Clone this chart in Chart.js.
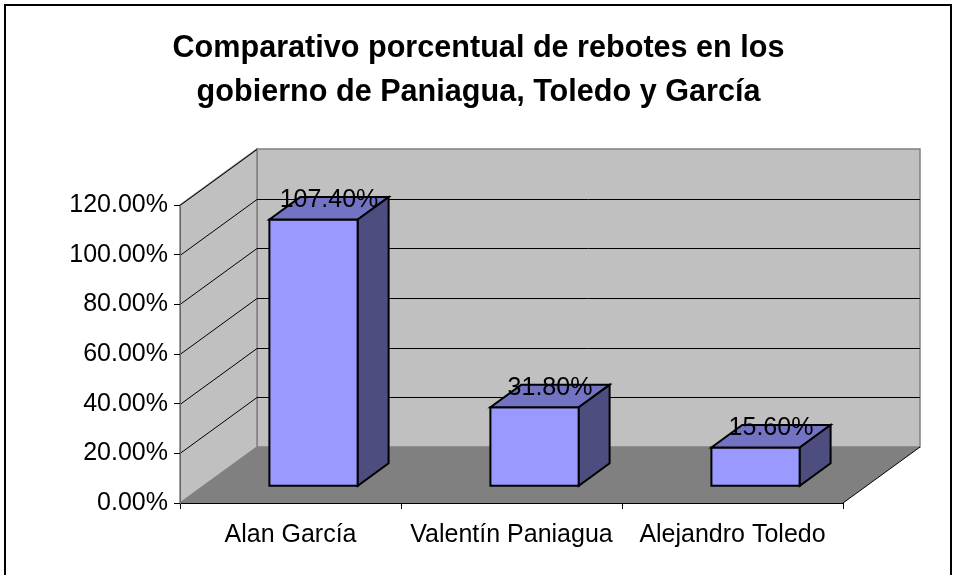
<!DOCTYPE html>
<html>
<head>
<meta charset="utf-8">
<script src="https://cdn.jsdelivr.net/npm/chart.js@4"></script>
<style>
  html, body { margin: 0; padding: 0; background: #fff; }
  canvas { display: block; }
</style>
</head>
<body>
<canvas id="c" width="957" height="575"></canvas>
<script>
const categories = ['Alan García', 'Valentín Paniagua', 'Alejandro Toledo'];
const values = [107.4, 31.8, 15.6];
const titleLines = ['Comparativo porcentual de rebotes en los', 'gobierno de Paniagua, Toledo y García'];
const yMin = 0, yMax = 120, yStep = 20;

const FONT = "'Liberation Sans', Arial, sans-serif";
const DEPTH_DX = 77, DEPTH_DY = -56;   // 3D wall depth
const BAR_FRONT = 0.3, BAR_DEPTH = 0.4; // fraction of floor depth

function poly(ctx, pts, fill, stroke, lw) {
  ctx.beginPath();
  ctx.moveTo(pts[0][0], pts[0][1]);
  for (let i = 1; i < pts.length; i++) ctx.lineTo(pts[i][0], pts[i][1]);
  ctx.closePath();
  if (fill) { ctx.fillStyle = fill; ctx.fill(); }
  if (stroke) { ctx.strokeStyle = stroke; ctx.lineWidth = lw || 1; ctx.stroke(); }
}

const threeD = {
  id: 'threeD',
  beforeDraw(chart) {
    const ctx = chart.ctx;
    const a = chart.chartArea;
    const ys = chart.scales.y;
    const dx = DEPTH_DX, dy = DEPTH_DY;
    ctx.save();
    ctx.fillStyle = '#fff';
    ctx.fillRect(0, 0, chart.width, chart.height);
    // outer frame
    ctx.strokeStyle = '#000';
    ctx.lineWidth = 2;
    ctx.strokeRect(5, 5, 946, 620);
    // back wall
    poly(ctx, [[a.left + dx, a.top + dy], [a.right + dx, a.top + dy], [a.right + dx, a.bottom + dy], [a.left + dx, a.bottom + dy]], '#C0C0C0', '#808080', 1.5);
    // side wall
    poly(ctx, [[a.left, a.top], [a.left + dx, a.top + dy], [a.left + dx, a.bottom + dy], [a.left, a.bottom]], '#C0C0C0', '#808080', 1.5);
    // floor
    poly(ctx, [[a.left, a.bottom], [a.right, a.bottom], [a.right + dx, a.bottom + dy], [a.left + dx, a.bottom + dy]], '#808080', null);
    ctx.beginPath();
    ctx.moveTo(a.right, a.bottom);
    ctx.lineTo(a.right + dx, a.bottom + dy);
    ctx.strokeStyle = '#000';
    ctx.lineWidth = 1;
    ctx.stroke();
    // gridlines
    ctx.strokeStyle = '#000';
    ctx.lineWidth = 1;
    ys.ticks.forEach(t => {
      if (t.value <= yMin) return;
      const y = Math.round(ys.getPixelForValue(t.value)) + 0.5;
      ctx.beginPath();
      ctx.moveTo(a.left, y);
      ctx.lineTo(a.left + dx, y + dy);
      if (t.value < yMax) ctx.lineTo(a.right + dx, y + dy);
      ctx.stroke();
    });
    ctx.restore();
  },
  afterDatasetsDraw(chart) {
    const ctx = chart.ctx;
    const meta = chart.getDatasetMeta(0);
    const fx = DEPTH_DX * BAR_FRONT, fy = DEPTH_DY * BAR_FRONT;
    const bx = DEPTH_DX * BAR_DEPTH, by = DEPTH_DY * BAR_DEPTH;
    ctx.save();
    ctx.lineJoin = 'miter';
    meta.data.forEach((bar, i) => {
      const w = bar.width;
      const l = bar.x - w / 2 + fx, r = bar.x + w / 2 + fx;
      const t = bar.y + fy, b = bar.base + fy;
      // front
      poly(ctx, [[l, t], [r, t], [r, b], [l, b]], '#9999FF', '#000', 2);
      // top
      poly(ctx, [[l, t], [l + bx, t + by], [r + bx, t + by], [r, t]], '#7373C4', '#000', 2);
      // side
      poly(ctx, [[r, t], [r + bx, t + by], [r + bx, b + by], [r, b]], '#4D4D80', '#000', 2);
      // label
      ctx.fillStyle = '#000';
      ctx.font = '25px ' + FONT;
      ctx.textAlign = 'center';
      ctx.textBaseline = 'middle';
      ctx.fillText(values[i].toFixed(2) + '%', bar.x + fx + bx / 2, t + by + 3);
    });
    ctx.restore();
  }
};

new Chart(document.getElementById('c'), {
  type: 'bar',
  data: {
    labels: categories,
    datasets: [{
      data: values,
      backgroundColor: 'rgba(0,0,0,0)',
      borderWidth: 0,
      barPercentage: 0.4,
      categoryPercentage: 1.0
    }]
  },
  options: {
    responsive: false,
    animation: false,
    devicePixelRatio: 1,
    layout: { padding: 0 },
    plugins: {
      legend: { display: false },
      tooltip: { enabled: false },
      title: {
        display: true,
        text: titleLines,
        color: '#000',
        font: { family: FONT, size: 30.6, weight: 'bold', lineHeight: 44 / 30.6 },
        padding: { top: 27, bottom: 90 }
      }
    },
    scales: {
      x: {
        offset: true,
        grid: { display: true, drawOnChartArea: false, drawTicks: true, tickLength: 6, color: '#000', offset: true },
        border: { display: true, color: '#000', width: 1 },
        ticks: { color: '#000', font: { family: FONT, size: 25 }, padding: 11, maxRotation: 0, autoSkip: false },
        afterFit(s) { s.height = 72; }
      },
      y: {
        min: yMin, max: yMax,
        grid: { display: true, drawOnChartArea: false, drawTicks: true, tickLength: 6, color: '#000' },
        border: { display: true, color: '#666', width: 1 },
        ticks: { stepSize: yStep, color: '#000', font: { family: FONT, size: 25 }, padding: 6,
                 callback: v => v.toFixed(2) + '%' },
        afterFit(s) { s.width = 180; }
      },
      y2: {
        position: 'right',
        display: true,
        grid: { display: false },
        border: { display: false },
        ticks: { display: false },
        afterFit(s) { s.width = 114; }
      }
    }
  },
  plugins: [threeD]
});
</script>
</body>
</html>
